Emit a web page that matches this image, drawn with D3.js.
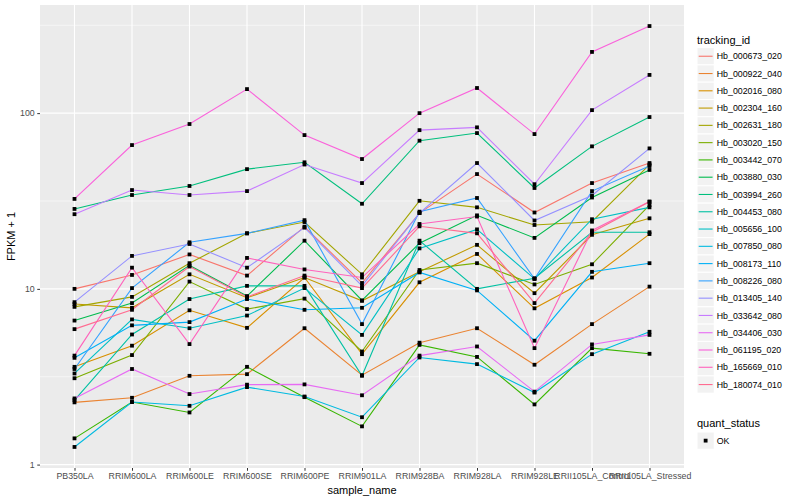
<!DOCTYPE html>
<html>
<head>
<meta charset="utf-8">
<script src="https://cdn.jsdelivr.net/npm/d3@7"></script>
<style>
  body { margin: 0; background: #fff; }
  text { font-family: "Liberation Sans", Arial, sans-serif; }
</style>
</head>
<body>
<script>
const samples = ["PB350LA", "RRIM600LA", "RRIM600LE", "RRIM600SE", "RRIM600PE", "RRIM901LA",
  "RRIM928BA", "RRIM928LA", "RRIM928LE", "RRII105LA_Control", "RRII105LA_Stressed"];

const trackingIds = ["Hb_000673_020", "Hb_000922_040", "Hb_002016_080", "Hb_002304_160", "Hb_002631_180",
  "Hb_003020_150", "Hb_003442_070", "Hb_003880_030", "Hb_003994_260", "Hb_004453_080",
  "Hb_005656_100", "Hb_007850_080", "Hb_008173_110", "Hb_008226_080", "Hb_013405_140",
  "Hb_033642_080", "Hb_034406_030", "Hb_061195_020", "Hb_165669_010", "Hb_180074_010"];

// FPKM + 1, one row per tracking_id, one value per sample
const fpkm = [
  [10, 12.0, 15.7, 11.9, 22.6, 10.8, 27, 45, 27.2, 40, 52],
  [2.26, 2.4, 3.2, 3.27, 5.97, 3.23, 4.94, 5.97, 3.7, 6.3, 10.3],
  [3.6, 4.75, 7.55, 6.0, 11.6, 4.25, 10.9, 15.8, 7.75, 11.6, 20.5],
  [8.2, 7.8, 12.1, 8.9, 11.6, 8.55, 12.5, 17.8, 9.45, 20.3, 25.2],
  [7.9, 9.0, 14.0, 20.7, 24, 12.1, 31.7, 29.1, 23.1, 24.1, 51],
  [3.1, 4.2, 11.0, 7.67, 8.8, 4.4, 12.8, 14.0, 10.6, 13.8, 30],
  [1.41, 2.27, 1.98, 3.6, 2.42, 1.65, 4.8, 4.1, 2.2, 4.6, 4.27],
  [6.6, 8.3, 13.6, 9.1, 18.8, 8.6, 18.2, 26.2, 19.5, 33.1, 47.5],
  [28.5, 34.2, 38.5, 48, 52.5, 30.5, 69.7, 77, 37.5, 64.7, 95],
  [2.33, 5.5, 8.75, 10.4, 10.4, 3.2, 18.8, 10.0, 11.5, 21, 21],
  [3.3, 6.7, 5.97, 7.05, 10.1, 5.47, 17.0, 21.8, 11.4, 24.9, 29.1],
  [1.26, 2.27, 2.16, 2.76, 2.44, 1.86, 4.07, 3.73, 2.57, 4.25, 5.7],
  [4.05, 6.2, 6.47, 8.75, 7.6, 7.8, 12.4, 9.8, 5.07, 12.5, 14.0],
  [3.5, 10.1, 18.4, 20.7, 24.6, 6.3, 27.5, 32.9, 11.4, 36, 50],
  [8.4, 15.4, 18.0, 13.2, 22.3, 10.4, 27, 52, 24.5, 34, 63],
  [26.6, 36.5, 34.2, 36, 51, 40, 80, 83, 39.4, 104, 165],
  [2.38, 3.5, 2.52, 2.85, 2.86, 2.48, 4.17, 4.7, 2.6, 4.83, 5.47],
  [32.5, 65.8, 86.7, 137, 75, 54.8, 100, 139, 76, 223, 313],
  [4.17, 13.2, 4.85, 15, 12.9, 11.6, 23.4, 25.8, 4.6, 21.5, 31.4],
  [5.9, 7.6, 13.4, 9.0, 11.9, 10.1, 22.7, 20.7, 8.3, 21, 31.3]
];

const colors = ["#F8766D", "#EA8331", "#D89000", "#C09B00", "#A3A500", "#7CAE00", "#39B600", "#00BB4E",
  "#00BF7D", "#00C1A3", "#00BFC4", "#00BAE0", "#00B0F6", "#35A2FF", "#9590FF", "#C77CFF",
  "#E76BF3", "#FA62DB", "#FF62BC", "#FF6C91"];

const yBreaks = [1, 10, 100];
const yMinor = [Math.pow(10, 0.5), Math.pow(10, 1.5), Math.pow(10, 2.5)];
const quantStatus = ["OK"];

const dimensions = {
  width: 800,
  height: 500,
  panel: { left: 40, right: 684, top: 5, bottom: 468 },
};

const svg = d3.select("body").append("svg")
  .attr("width", dimensions.width).attr("height", dimensions.height);

const p = dimensions.panel;

// discrete x with ggplot's 0.6 expansion
const xScale = d3.scaleLinear()
  .domain([0.4, samples.length + 0.6])
  .range([p.left, p.right]);
const xPos = i => xScale(i + 1);

const allVals = fpkm.flat();
const lo = Math.log10(d3.min(allVals)), hi = Math.log10(d3.max(allVals));
const pad = (hi - lo) * 0.05;
const yScale = d3.scaleLog()
  .domain([Math.pow(10, lo - pad), Math.pow(10, hi + pad)])
  .range([p.bottom, p.top]);

svg.append("rect")
  .attr("x", p.left).attr("y", p.top)
  .attr("width", p.right - p.left).attr("height", p.bottom - p.top)
  .attr("fill", "#EBEBEB");

const grid = svg.append("g");
grid.selectAll(".ymin").data(yMinor.filter(v => yScale(v) > p.top)).join("line")
  .attr("x1", p.left).attr("x2", p.right)
  .attr("y1", d => yScale(d)).attr("y2", d => yScale(d))
  .attr("stroke", "#fff").attr("stroke-width", 0.55);
grid.selectAll(".ymaj").data(yBreaks).join("line")
  .attr("x1", p.left).attr("x2", p.right)
  .attr("y1", d => yScale(d)).attr("y2", d => yScale(d))
  .attr("stroke", "#fff").attr("stroke-width", 1.1);
grid.selectAll(".xmaj").data(samples).join("line")
  .attr("x1", (d, i) => xPos(i)).attr("x2", (d, i) => xPos(i))
  .attr("y1", p.top).attr("y2", p.bottom)
  .attr("stroke", "#fff").attr("stroke-width", 1.1);

// lines
const line = d3.line().x((d, i) => xPos(i)).y(d => yScale(d));
svg.append("g").selectAll("path").data(fpkm).join("path")
  .attr("d", line)
  .attr("fill", "none")
  .attr("stroke", (d, i) => colors[i])
  .attr("stroke-width", 1.1);

// points
const pts = svg.append("g");
fpkm.forEach(row => {
  pts.selectAll(null).data(row).join("rect")
    .attr("x", (d, i) => xPos(i) - 1.9).attr("y", d => yScale(d) - 1.9)
    .attr("width", 3.8).attr("height", 3.8)
    .attr("fill", "#000");
});

// axes
const xAxis = d3.axisBottom(xScale)
  .tickValues(samples.map((d, i) => i + 1))
  .tickFormat(i => samples[i - 1])
  .tickSize(2.75).tickPadding(2.5);
const gx = svg.append("g").attr("transform", `translate(0,${p.bottom})`).call(xAxis);
gx.select(".domain").remove();
gx.selectAll("line").attr("stroke", "#333");
gx.selectAll("text").attr("fill", "#4D4D4D").attr("font-size", 8.8)
  .attr("font-family", "Liberation Sans, Arial, sans-serif");

const yAxis = d3.axisLeft(yScale)
  .tickValues(yBreaks).tickFormat(d3.format("d"))
  .tickSize(2.75).tickPadding(2.5);
const gy = svg.append("g").attr("transform", `translate(${p.left},0)`).call(yAxis);
gy.select(".domain").remove();
gy.selectAll("line").attr("stroke", "#333");
gy.selectAll("text").attr("fill", "#4D4D4D").attr("font-size", 8.8)
  .attr("font-family", "Liberation Sans, Arial, sans-serif");

svg.append("text")
  .attr("x", (p.left + p.right) / 2).attr("y", 494)
  .attr("text-anchor", "middle").attr("font-size", 11).attr("fill", "#000")
  .text("sample_name");

svg.append("text")
  .attr("transform", `translate(15,${(p.top + p.bottom) / 2}) rotate(-90)`)
  .attr("text-anchor", "middle").attr("font-size", 11).attr("fill", "#000")
  .text("FPKM + 1");

// colour legend
const leg = svg.append("g").attr("transform", "translate(697,0)");
leg.append("text").attr("x", 0).attr("y", 44).attr("font-size", 11).text("tracking_id");
const keySize = 17.28, keyTop = 47.6;
const keys = leg.selectAll(".key").data(trackingIds).join("g")
  .attr("transform", (d, i) => `translate(0,${keyTop + i * keySize})`);
keys.append("rect").attr("width", keySize).attr("height", keySize)
  .attr("fill", "#F2F2F2").attr("stroke", "#fff").attr("stroke-width", 1);
keys.append("line").attr("x1", 1.7).attr("x2", keySize - 1.7)
  .attr("y1", keySize / 2).attr("y2", keySize / 2)
  .attr("stroke", (d, i) => colors[i]).attr("stroke-width", 1.1);
keys.append("text").attr("x", keySize + 2.5).attr("y", keySize / 2 + 3.1)
  .attr("font-size", 8.8).attr("fill", "#000").text(d => d);

// shape legend
const leg2 = svg.append("g").attr("transform", "translate(697,0)");
leg2.append("text").attr("x", 0).attr("y", 427).attr("font-size", 11).text("quant_status");
const k2 = leg2.selectAll(".k2").data(quantStatus).join("g")
  .attr("transform", (d, i) => `translate(0,${432 + i * keySize})`);
k2.append("rect").attr("width", keySize).attr("height", keySize)
  .attr("fill", "#F2F2F2").attr("stroke", "#fff");
k2.append("rect").attr("x", keySize / 2 - 1.9).attr("y", keySize / 2 - 1.9)
  .attr("width", 3.8).attr("height", 3.8).attr("fill", "#000");
k2.append("text").attr("x", keySize + 2.5).attr("y", keySize / 2 + 3.1)
  .attr("font-size", 8.8).text(d => d);
</script>
</body>
</html>
